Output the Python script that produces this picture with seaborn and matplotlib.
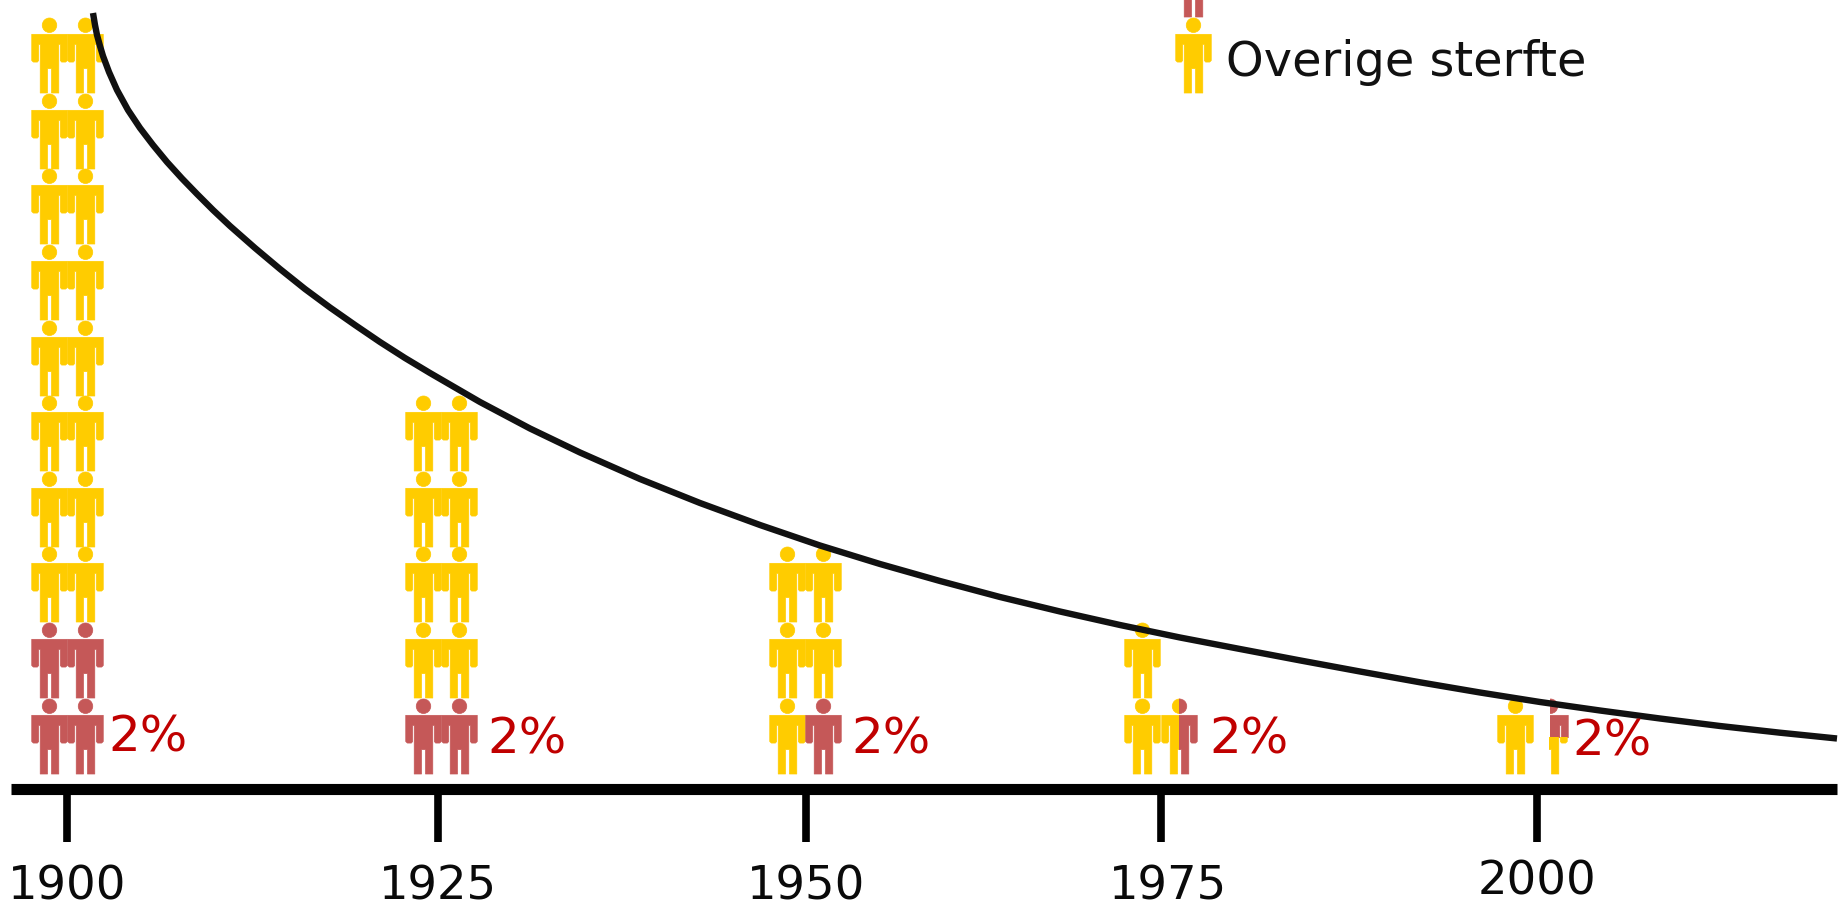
import numpy as np
import pandas as pd
import seaborn as sns
import matplotlib.pyplot as plt
from matplotlib.path import Path
from matplotlib.patches import Rectangle
from matplotlib.transforms import ScaledTranslation

# jaren op de as
jaren = ["1900", "1925", "1950", "1975", "2000"]

# poppetjes per jaar, van onder naar boven (Y = overige sterfte, R = rood,
# H = half geel half rood, Q = alleen rechterhelft, boven rood en onder geel)
rijen_1900 = ["RR", "RR", "YY", "YY", "YY", "YY", "YY", "YY", "YY", "YY"]
rijen_1925 = ["RR", "YY", "YY", "YY", "YY"]
rijen_1950 = ["YR", "YY", "YY"]
rijen_1975 = ["YH", "Y"]
rijen_2000 = ["YQ"]
alle_rijen = [rijen_1900, rijen_1925, rijen_1950, rijen_1975, rijen_2000]

percentage = ["2%", "2%", "2%", "2%", "2%"]
legenda_tekst = "Overige sterfte"

# de curve (pixels)
curve_x = [93, 95, 97, 100, 103, 109, 117, 128, 140, 153, 167, 182, 197, 213, 230, 255, 280, 305, 330, 355, 380, 405,
           430, 480, 530, 580, 640, 700, 760, 820, 880, 940, 1000, 1060, 1120, 1180, 1240, 1300, 1360, 1420, 1480,
           1540, 1600, 1660, 1720, 1780, 1837]
curve_y = [13, 25, 35, 46, 56, 72, 90, 110, 128, 145, 162, 178.5, 194, 210, 226, 248, 269, 289, 307.5, 325, 342, 358,
           373, 402, 428.5, 452.5, 479, 503, 525, 545.5, 564, 581, 597, 611.5, 625, 637.5, 649, 660.4, 671.5, 682.3,
           692.5, 702, 710.5, 718.5, 726, 732.7, 738.5]

# plaatsing
tick_x = [67, 438, 806, 1161, 1537]
label_dx = [0, 0, 0, 7, 0]
label_dy = [0, 0, 0, 0, 5]
kolom_x = [(48.5, 85), (423, 459), (787, 823), (1142, 1178.5), (1515, 1550)]
percent_x = [108, 487, 851, 1209, 1572]
percent_y = [737, 740, 740, 739, 741]
onderste_rij = 735.5
rij_afstand = 75.6

geel = "#ffcc00"
rood = "#c55858"


def maak_poppetje():
    # hoogte 75, midden op de oorsprong, y omhoog
    romp = [(-17.6, 21), (17.6, 21), (17.6, -5), (16, -6.5), (12, -6.5), (10.8, -5), (10.8, 11), (9.2, 11),
            (9.2, -37.2), (2, -37.2), (2, -13), (-2, -13), (-2, -37.2), (-9.2, -37.2),
            (-9.2, 11), (-10.8, 11), (-10.8, -5), (-12, -6.5), (-16, -6.5), (-17.6, -5), (-17.6, 21)]
    codes = [Path.MOVETO] + [Path.LINETO] * (len(romp) - 2) + [Path.CLOSEPOLY]
    lijf = Path(romp, codes)
    hoofd = Path.circle((0, 30), 7.2)
    return Path.make_compound_path(lijf, hoofd)


sns.set_theme(style="white")
plt.rcParams["font.family"] = ["DejaVu Sans"]

fig, ax = plt.subplots(figsize=(18.45, 9.08), dpi=100)
fig.subplots_adjust(left=0, right=1, bottom=0, top=1)
ax.set_xlim(0, 1845)
ax.set_ylim(908, 0)
ax.patch.set_alpha(0)

poppetje = maak_poppetje()
maat = 54 ** 2  # 75 px hoog


def teken(df, kleur, clip=None):
    coll = sns.scatterplot(data=df, x="x", y="y", ax=ax, color=kleur, marker=poppetje, s=maat,
                           linewidth=0.5, edgecolor=kleur, legend=False, zorder=2)
    nieuw = coll.collections[-1]
    if clip is not None:
        nieuw.set_clip_path(Rectangle((clip[0], clip[1]), clip[2], clip[3], transform=ax.transData))


heel = []
for j, rijen in enumerate(alle_rijen):
    for r, rij in enumerate(rijen):
        y = onderste_rij - r * rij_afstand
        for k, soort in enumerate(rij):
            x = kolom_x[j][k]
            if soort in "YR":
                heel.append({"x": x, "y": y, "soort": soort})
            elif soort == "H":
                pt = pd.DataFrame({"x": [x], "y": [y]})
                teken(pt, geel, clip=(x - 20, y - 40, 20, 80))
                teken(pt, rood, clip=(x, y - 40, 20, 80))
            elif soort == "Q":
                teken(pd.DataFrame({"x": [x], "y": [y]}), rood, clip=(x, y - 40, 20, 41))
                teken(pd.DataFrame({"x": [x - 1], "y": [y]}), geel, clip=(x - 1, y + 1, 20, 40))

# legenda-poppetjes, de rode valt deels buiten de figuur
heel.append({"x": 1193, "y": 55, "soort": "Y"})
heel.append({"x": 1193, "y": 55 - rij_afstand, "soort": "R"})

heel = pd.DataFrame(heel)
teken(heel[heel["soort"] == "Y"], geel)
teken(heel[heel["soort"] == "R"], rood)

# curve
sns.lineplot(x=curve_x, y=curve_y, ax=ax, color="#111111", linewidth=4.6, sort=False, zorder=3,
             errorbar=None, estimator=None, solid_capstyle="butt", solid_joinstyle="round")

# as
ax.set_xlabel("")
ax.set_ylabel("")
ax.set_xticks(tick_x, jaren)
ax.set_yticks([])
for kant in ["top", "left", "right"]:
    ax.spines[kant].set_visible(False)
ax.spines["bottom"].set_position(("data", 788.5))
ax.spines["bottom"].set_bounds(11, 1837)
ax.spines["bottom"].set_linewidth(8)
ax.spines["bottom"].set_color("black")
ax.spines["bottom"].set_capstyle("butt")
ax.tick_params(axis="x", length=38, width=5.5, color="black", labelsize=33.5, labelcolor="#0a0a0a",
               pad=17, bottom=True)
# sommige labels staan iets verschoven
for label, dx, dy in zip(ax.get_xticklabels(), label_dx, label_dy):
    label.set_transform(label.get_transform() + ScaledTranslation(dx / 100, dy / 100, fig.dpi_scale_trans))

for x, y, t in zip(percent_x, percent_y, percentage):
    ax.text(x, y, t, color="#c00000", fontsize=36, ha="left", va="center")

ax.text(1226, 63, legenda_tekst, color="#111111", fontsize=34.5, ha="left", va="center")

fig.savefig("out.png", dpi=100, facecolor="white")
